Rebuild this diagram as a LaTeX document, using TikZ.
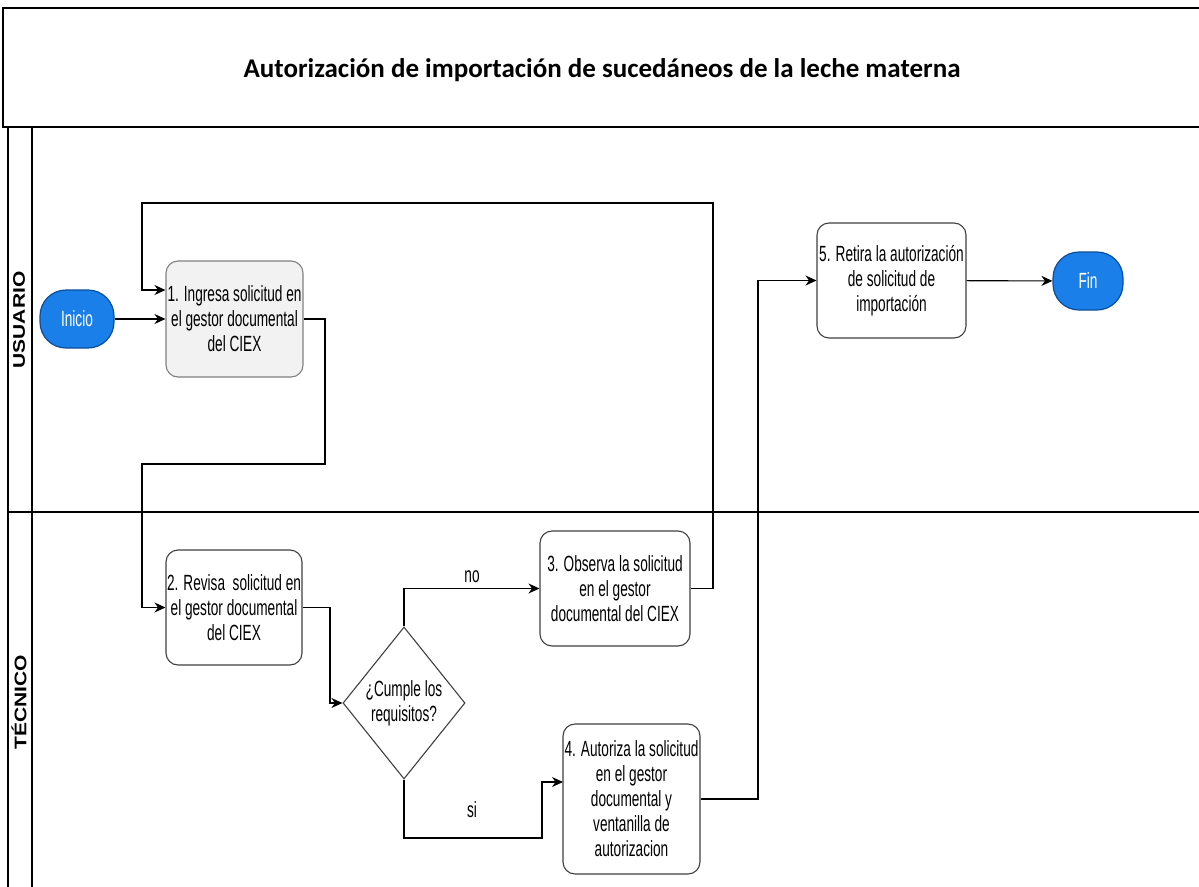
\documentclass[tikz,border=0pt]{standalone}
\usepackage{fontspec}
\usepackage{graphicx}
\setmainfont{Liberation Sans}
\newfontfamily\nar[FakeStretch=0.62]{Liberation Sans}
\newfontfamily\ttlfont{Carlito}
\usetikzlibrary{arrows.meta,shapes.geometric}
\definecolor{startblue}{HTML}{1A7FE8}
\definecolor{startborder}{HTML}{0B4E9E}
\definecolor{graybox}{HTML}{F2F2F2}
\definecolor{boxborder}{HTML}{404040}
\tikzset{
  stepbox/.style={draw=boxborder, line width=1.1pt, rounded corners=12pt, fill=white, align=center, inner sep=1pt, font=\nar\fontsize{22}{25}\selectfont},
  terminal/.style={draw=startborder, line width=1.2pt, fill=startblue, rounded corners=26pt, text=white, font=\nar\fontsize{22}{24}\selectfont},
  decision/.style={draw=boxborder, line width=1.1pt, diamond, inner sep=0pt, align=center, font=\nar\fontsize{22}{25}\selectfont},
  conn/.style={line width=1.1pt, -{Stealth[length=11pt,width=10pt]}},
  lane/.style={line width=1.2pt},
  lanelabel/.style={rotate=90, font=\bfseries\fontsize{21}{21}\selectfont},
  lbl/.style={font=\nar\fontsize{22}{24}\selectfont}
}
\begin{document}
\begin{tikzpicture}[x=1pt,y=-1pt]
\useasboundingbox (0,0) rectangle (1199,886);
% title and lanes
\draw[lane] (1202,8) -- (3,8) -- (3,127) -- (1202,127);
\node (title) at (602,70) {\ttlfont\bfseries\fontsize{27}{29}\selectfont Autorización de importación de sucedáneos de la leche materna};
\draw[lane] (8,127) -- (8,890);
\draw[lane] (32,127) -- (32,890);
\draw[lane] (8,512) -- (1202,512);
\node[lanelabel] (lu) at (19,320) {\scalebox{1}[0.8]{USUARIO}};
\node[lanelabel] (lt) at (19,702) {\scalebox{1}[0.8]{TÉCNICO}};
% nodes
\node[terminal, minimum width=74pt, minimum height=58pt] (ini) at (77,319) {Inicio};
\node[stepbox, fill=graybox, draw=gray, minimum width=137pt, minimum height=116pt] (b1) at (234.5,319) {1. Ingresa solicitud en\\el gestor documental\\del CIEX};
\node[stepbox, minimum width=136pt, minimum height=115pt] (b2) at (234,607.5) {2. Revisa\ \ solicitud en\\el gestor documental\\del CIEX};
\node[decision, minimum width=90pt, minimum height=152pt] (dia) at (404,703) {¿Cumple los\\requisitos?};
\node[stepbox, minimum width=150pt, minimum height=115pt] (b3) at (615,588.5) {3. Observa la solicitud\\en el gestor\\documental del CIEX};
\node[stepbox, minimum width=137pt, minimum height=150pt] (b4) at (631.5,799) {4. Autoriza la solicitud\\en el gestor\\documental y\\ventanilla de\\autorizacion};
\node[stepbox, minimum width=149pt, minimum height=115pt] (b5) at (891.5,280.5) {5. Retira la autorización\\de solicitud de\\importación};
\node[terminal, minimum width=70pt, minimum height=58pt] (fin) at (1088,281) {Fin};
% helper coordinates
\coordinate (r1) at (713,203);
\coordinate (r2) at (142,203);
\coordinate (r3) at (142,290);
\coordinate (d1) at (325,464);
\coordinate (d2) at (142,464);
\coordinate (e1) at (330,650);
\coordinate (s1) at (404,838);
\coordinate (s2) at (542,838);
\coordinate (s3) at (542,782);
\coordinate (s4) at (563,782);
\coordinate (g1) at (758,500);
% connectors
\draw[conn] (ini) -- (b1);
\draw[conn] (b3.east) -| (r1) -- (r2) -- (r3) -- (r3 -| b1.west);
\draw[conn] (b1.east) -| (d1) -- (d2) |- (b2.west);
\draw[conn] (b2.east) -| (e1) |- (dia.west);
\draw[conn] (dia.north) |- (b3.west);
\draw[conn] (dia.south) -- (s1) -- (s2) -- (s3) -- (s4);
\draw[conn] (b4.east) -| (g1) |- (b5.west);
\draw[conn] (b5) -- (fin);
% labels
\node[lbl] (lno) at (472,577) {no};
\node[lbl] (lsi) at (472,810) {si};
\end{tikzpicture}
\end{document}
